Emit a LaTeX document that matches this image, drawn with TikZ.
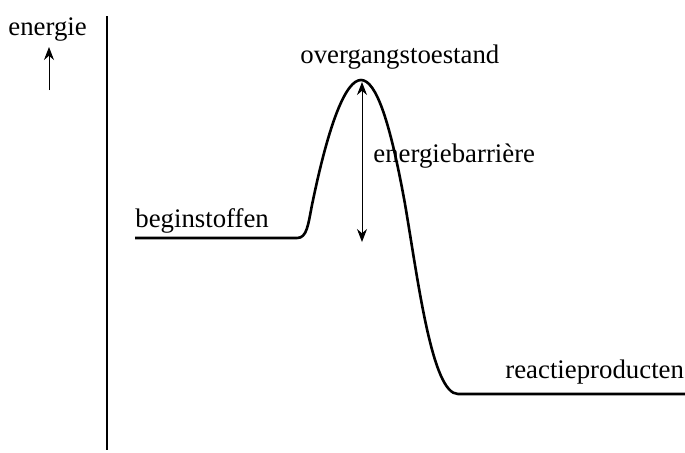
\documentclass[tikz,border=0pt]{standalone}
\usepackage{fontspec}
\setmainfont{Liberation Serif}
\usetikzlibrary{arrows.meta}
\begin{document}
\begin{tikzpicture}[
    x=0.5pt, y=-0.5pt,
    lbl/.style={inner sep=0pt, font=\fontsize{13.4}{16}\selectfont},
    curve/.style={line width=1.3pt, line join=round},
    axis/.style={line width=1pt},
    pijl/.style={-{Stealth[length=6.5pt, width=5pt]}, line width=0.5pt},
    dpijl/.style={{Stealth[length=6.5pt, width=5pt]}-{Stealth[length=6.5pt, width=5pt]}, line width=0.5pt}
]
\useasboundingbox (0,0) rectangle (685,452);

% energie-as
\node[lbl, anchor=base west] (energie) at (8,35) {energie};
\coordinate (pijl_voet) at (49,90);
\coordinate (pijl_punt) at (49,47);
\draw[pijl] (pijl_voet) -- (pijl_punt);

\coordinate (as_top) at (107,16);
\coordinate (as_bodem) at (107,450);
\draw[axis] (as_top) -- (as_bodem);

% energiekromme
\coordinate (begin_l) at (135,238);
\coordinate (begin_r) at (297,238);
\coordinate (knik_l) at (312,205);
\coordinate (top) at (361,80);
\coordinate (knik_r) at (405,204);
\coordinate (eind_l) at (458,394);
\coordinate (eind_r) at (685,394);
\draw[curve] (begin_l) -- (begin_r)
    .. controls (307,238) and (308,225) .. (knik_l)
    .. controls (329,122) and (346,80) .. (top)
    .. controls (376,80) and (390,121) .. (knik_r)
    .. controls (418,280) and (432,394) .. (eind_l)
    -- (eind_r);

\node[lbl, anchor=base west] (beginstoffen) at (135,227) {beginstoffen};
\node[lbl, anchor=base west] (producten) at (505,378) {reactieproducten};
\node[lbl, anchor=base west] (overgang) at (300,63) {overgangstoestand};

% barriere
\coordinate (barr_top) at (362,82);
\coordinate (barr_bodem) at (362,242);
\draw[dpijl] (barr_top) -- (barr_bodem);
\node[lbl, anchor=base west] (barriere) at (373,162) {energiebarrière};
\end{tikzpicture}
\end{document}
